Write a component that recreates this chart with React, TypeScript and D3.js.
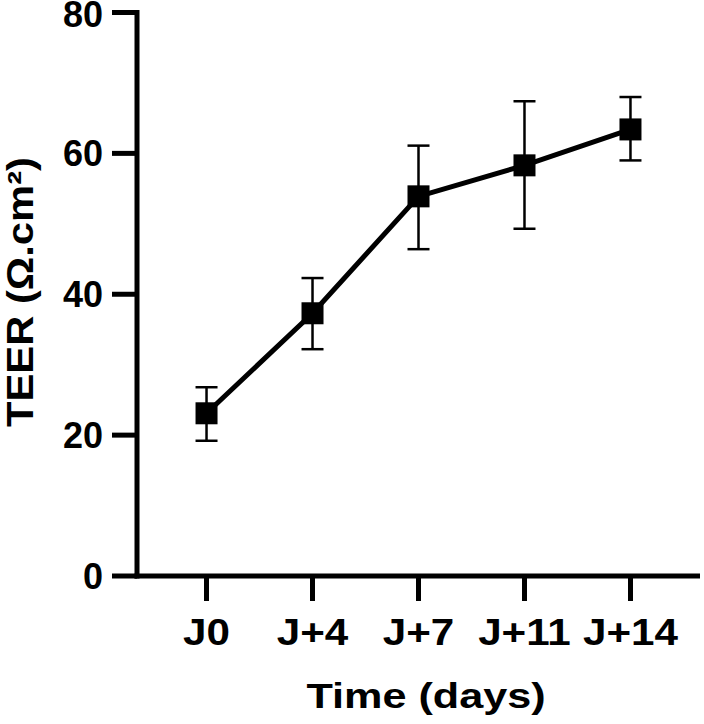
import React from "react";
import * as d3 from "d3";

const categories = ["J0", "J+4", "J+7", "J+11", "J+14"];
const means = [23.1, 37.3, 53.9, 58.3, 63.4];
const lowers = [19.2, 32.2, 46.4, 49.3, 59.0];
const uppers = [26.8, 42.3, 61.1, 67.4, 68.0];
const yTicks = [0, 20, 40, 60, 80];

const W = 704;
const H = 724;
const FONT = "'Liberation Sans', Arial, Helvetica, sans-serif";

export default function App() {
  const x = d3.scalePoint<string>().domain(categories).range([137, 700]).padding(0.656);
  const y = d3.scaleLinear().domain([0, 80]).range([576, 12.5]);
  const line = d3
    .line<number>()
    .x((_, i) => x(categories[i]) as number)
    .y((d) => y(d));
  const ms = 22;
  const cap = 11;
  return (
    <svg width={W} height={H} style={{ position: "absolute", left: 0, top: 0, background: "#fff" }}>
      <rect width={W} height={H} fill="#fff" />
      {/* axes */}
      <line x1={137} x2={137} y1={y(80) - 2.5} y2={y(0) + 2.5} stroke="#000" strokeWidth={5} />
      <line x1={134.5} x2={700} y1={y(0)} y2={y(0)} stroke="#000" strokeWidth={5} />
      {yTicks.map((t) => (
        <g key={t}>
          <line x1={112} x2={137} y1={y(t)} y2={y(t)} stroke="#000" strokeWidth={5} />
          <text
            x={103}
            y={Math.max(y(t) + 13, 27)}
            textAnchor="end"
            fontFamily={FONT}
            fontWeight="bold"
            fontSize={36}
            fill="#000"
          >
            {t}
          </text>
        </g>
      ))}
      {categories.map((c) => (
        <g key={c}>
          <line x1={x(c)} x2={x(c)} y1={y(0)} y2={601} stroke="#000" strokeWidth={5} />
          <text
            transform={`translate(${x(c)}, 645) scale(1.14, 1)`}
            textAnchor="middle"
            fontFamily={FONT}
            fontWeight="bold"
            fontSize={37}
            fill="#000"
          >
            {c}
          </text>
        </g>
      ))}
      {/* axis titles */}
      <text
        transform="translate(426, 708) scale(1.2, 1)"
        textAnchor="middle"
        fontFamily={FONT}
        fontWeight="bold"
        fontSize={36}
        fill="#000"
      >
        Time (days)
      </text>
      <text
        transform={`translate(33, 292) rotate(-90) scale(1.16, 1)`}
        textAnchor="middle"
        fontFamily={FONT}
        fontWeight="bold"
        fontSize={36}
        fill="#000"
      >
        TEER (Ω.cm²)
      </text>
      {/* error bars */}
      {categories.map((c, i) => {
        const cx = x(c) as number;
        return (
          <g key={"e" + c} stroke="#000" strokeWidth={2.5}>
            <line x1={cx} x2={cx} y1={y(lowers[i])} y2={y(uppers[i])} />
            <line x1={cx - cap} x2={cx + cap} y1={y(lowers[i])} y2={y(lowers[i])} />
            <line x1={cx - cap} x2={cx + cap} y1={y(uppers[i])} y2={y(uppers[i])} />
          </g>
        );
      })}
      <path d={line(means) || ""} fill="none" stroke="#000" strokeWidth={5} />
      {categories.map((c, i) => (
        <rect
          key={"m" + c}
          x={(x(c) as number) - ms / 2}
          y={y(means[i]) - ms / 2}
          width={ms}
          height={ms}
          fill="#000"
        />
      ))}
    </svg>
  );
}
